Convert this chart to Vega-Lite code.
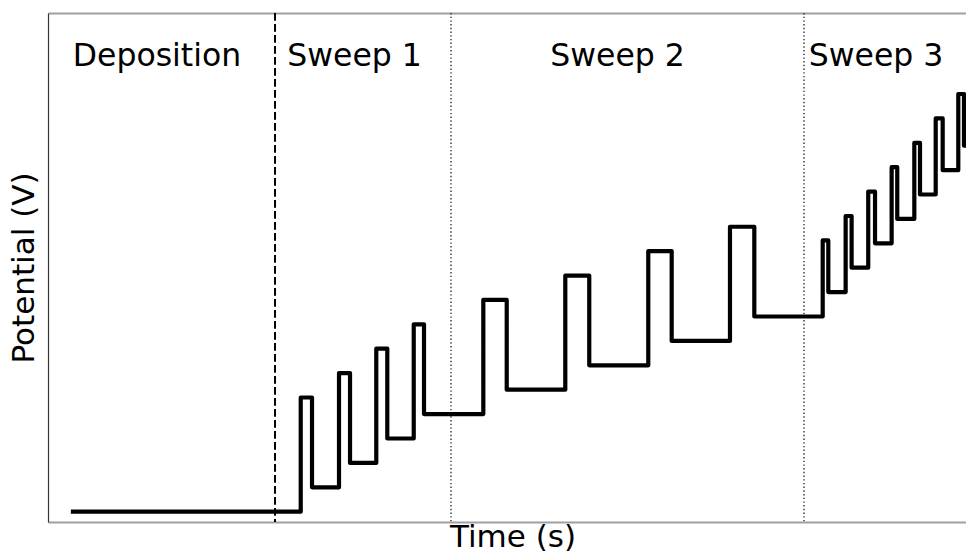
{
  "$schema": "https://vega.github.io/schema/vega-lite/v6.json",
  "width": 918,
  "height": 509,
  "autosize": {"type": "none"},
  "padding": {"left": 48, "top": 13, "right": 0, "bottom": 32},
  "config": {
    "view": {"stroke": null},
    "font": "DejaVu Sans",
    "axis": {
      "ticks": false,
      "labels": false,
      "grid": false,
      "domain": true,
      "titleFont": "DejaVu Sans",
      "titleFontSize": 31,
      "titleFontWeight": "normal",
      "titleColor": "black"
    },
    "axisX": {"domainColor": "#a0a0a0", "domainWidth": 2},
    "axisY": {"domainColor": "#333333", "domainWidth": 1.2}
  },
  "datasets": {
    "waveform": [
      {"t": 2.72, "v": 0},
      {"t": 27.53, "v": 46.8},
      {"t": 28.76, "v": 10},
      {"t": 31.7, "v": 56.8},
      {"t": 32.9, "v": 20},
      {"t": 35.76, "v": 66.8},
      {"t": 36.96, "v": 30},
      {"t": 39.84, "v": 76.8},
      {"t": 40.96, "v": 40},
      {"t": 47.42, "v": 86.8},
      {"t": 49.97, "v": 50},
      {"t": 56.35, "v": 96.8},
      {"t": 58.96, "v": 60},
      {"t": 65.39, "v": 106.8},
      {"t": 67.94, "v": 70},
      {"t": 74.29, "v": 116.8},
      {"t": 76.94, "v": 80},
      {"t": 84.39, "v": 111.2},
      {"t": 85.0, "v": 90},
      {"t": 86.89, "v": 121.2},
      {"t": 87.54, "v": 100},
      {"t": 89.35, "v": 131.2},
      {"t": 90.09, "v": 110},
      {"t": 91.9, "v": 141.2},
      {"t": 92.51, "v": 120},
      {"t": 94.37, "v": 151.2},
      {"t": 94.99, "v": 130},
      {"t": 96.7, "v": 161.2},
      {"t": 97.46, "v": 140},
      {"t": 99.16, "v": 171.2},
      {"t": 99.78, "v": 150},
      {"t": 101, "v": 150}
    ],
    "phaseStart": [
      {"t": 24.73}
    ],
    "sweepStart": [
      {"t": 43.9},
      {"t": 82.35}
    ],
    "phaseLabels": [
      {"label": "Deposition", "t": 11.87, "v": 182.7},
      {"label": "Sweep 1", "t": 33.39, "v": 182.7},
      {"label": "Sweep 2", "t": 62.04, "v": 182.7},
      {"label": "Sweep 3", "t": 90.2, "v": 182.7}
    ]
  },
  "resolve": {"axis": {"x": "independent"}},
  "layer": [
    {
      "data": {"name": "phaseStart"},
      "mark": {"type": "rule", "color": "black", "strokeWidth": 2, "strokeDash": [7.7, 3.3]},
      "encoding": {
        "x": {"field": "t", "type": "quantitative", "scale": {"domain": [0, 100], "nice": false, "zero": false}, "axis": null}
      }
    },
    {
      "data": {"name": "sweepStart"},
      "mark": {"type": "rule", "color": "#333333", "strokeWidth": 1.4, "strokeDash": [1.4, 2.3]},
      "encoding": {
        "x": {"field": "t", "type": "quantitative", "axis": null}
      }
    },
    {
      "data": {"name": "waveform"},
      "mark": {
        "type": "line",
        "interpolate": "step-after",
        "color": "black",
        "strokeWidth": 4.2,
        "strokeJoin": "round",
        "strokeCap": "square",
        "clip": true
      },
      "encoding": {
        "x": {
          "field": "t",
          "type": "quantitative",
          "axis": {
            "orient": "bottom",
            "title": "Time (s)",
            "titleX": 464.5,
            "titleY": 24.7,
            "titleAlign": "center",
            "titleBaseline": "alphabetic"
          }
        },
        "y": {
          "field": "v",
          "type": "quantitative",
          "scale": {"domain": [-4.22, 204.4], "nice": false, "zero": false},
          "axis": {
            "title": "Potential (V)",
            "titleX": -14.5,
            "titleY": 254.5,
            "titleAngle": 270,
            "titleAlign": "center",
            "titleBaseline": "alphabetic"
          }
        }
      }
    },
    {
      "data": {"name": "phaseLabels"},
      "mark": {"type": "text", "font": "DejaVu Sans", "fontSize": 31.5, "color": "black", "align": "center", "baseline": "alphabetic"},
      "encoding": {
        "x": {"field": "t", "type": "quantitative", "axis": {"orient": "top", "title": null}},
        "y": {
          "field": "v",
          "type": "quantitative",
          "axis": {
            "title": "Potential (V)",
            "titleX": -14.5,
            "titleY": 254.5,
            "titleAngle": 270,
            "titleAlign": "center",
            "titleBaseline": "alphabetic"
          }
        },
        "text": {"field": "label"}
      }
    }
  ]
}
